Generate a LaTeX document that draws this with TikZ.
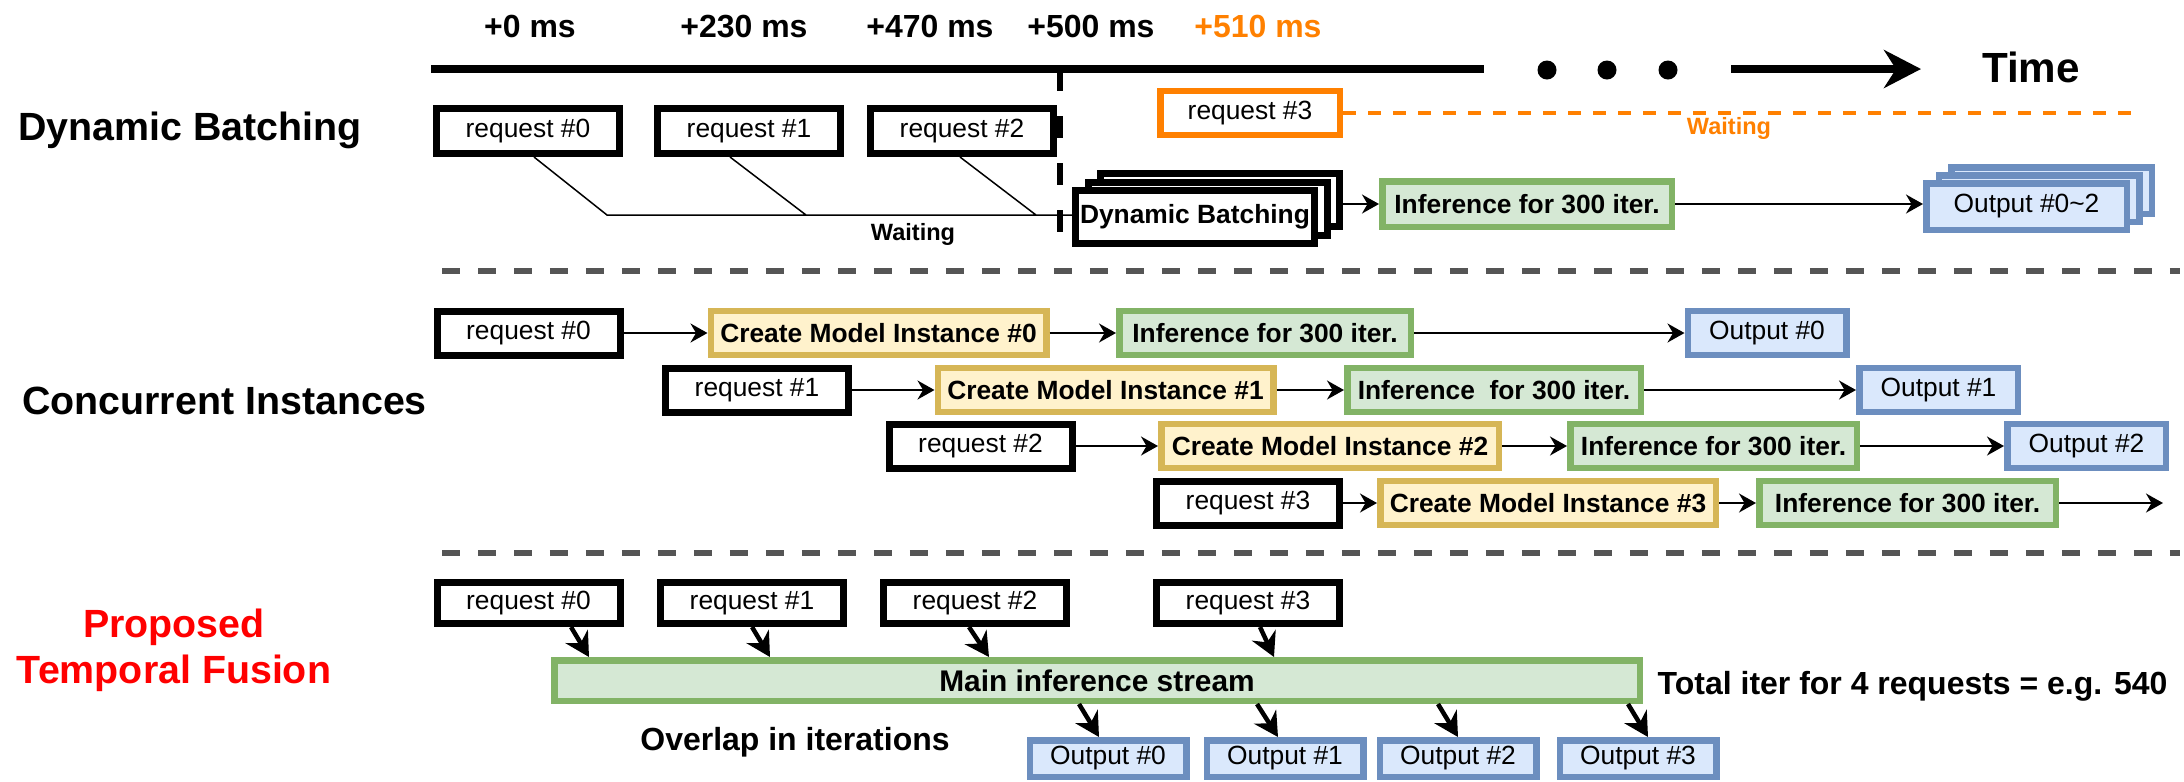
\documentclass[tikz,border=0pt]{standalone}
\usepackage{fontspec}
\setmainfont{Liberation Sans}
\usetikzlibrary{
  calc,
  positioning,
  arrows.meta}
\definecolor{dbOrange}{HTML}{FF8000}
\definecolor{cmiLine}{HTML}{D6B656}
\definecolor{cmiFill}{HTML}{FFF2CC}
\definecolor{infLine}{HTML}{82B366}
\definecolor{infFill}{HTML}{D5E8D4}
\definecolor{outLine}{HTML}{6C8EBF}
\definecolor{outFill}{HTML}{DAE8FC}
\definecolor{sepGray}{HTML}{555555}
\newcommand{\boxfont}{\fontsize{7.5}{9}\selectfont}

\begin{document}
\begin{tikzpicture}[
  req/.style={draw,line width=0.07cm,fill=white,inner sep=0pt,
    minimum width=1.83cm,minimum height=0.44cm,font=\boxfont},
  cmibox/.style={req,line width=0.065cm,draw=cmiLine,fill=cmiFill,minimum width=3.355cm,
    font=\boxfont\bfseries},
  infbox/.style={req,line width=0.065cm,draw=infLine,fill=infFill,minimum width=2.915cm,
    font=\boxfont\bfseries},
  outbox/.style={req,line width=0.065cm,draw=outLine,fill=outFill,minimum width=1.585cm},
  stackbox/.style={req,minimum width=2.39cm,minimum height=0.53cm,
    font=\boxfont\bfseries},
  rowlabel/.style={anchor=base,inner sep=0pt,
    font=\fontsize{11.2}{13.1}\selectfont\bfseries},
  tick/.style={anchor=base,inner sep=0pt,font=\fontsize{9.1}{11}\selectfont\bfseries},
  waitlabel/.style={anchor=base,inner sep=0pt,font=\fontsize{6.7}{8}\selectfont\bfseries},
  flow/.style={line width=0.02cm,-{Stealth[length=0.17cm,width=0.19cm]}},
  fuse/.style={line width=0.045cm,-{Stealth[length=0.24cm,width=0.26cm]}},
  sep/.style={sepGray,line width=0.055cm,dash pattern=on 0.18cm off 0.18cm}
]%
  \useasboundingbox (0,0) rectangle (21.84,-7.81);

  % Time axis
  \draw[line width=0.08cm] (4.31,-0.69) -- (14.84,-0.69);
  \foreach \x in {15.47,16.07,16.68}
    \fill (\x,-0.70) circle (0.095cm);
  \draw[line width=0.08cm,-{Stealth[length=0.37cm,width=0.38cm]}]
    (17.31,-0.69) -- (19.21,-0.69);
  \node[tick,font=\fontsize{12}{14}\selectfont\bfseries] (time) at (20.31,-0.82) {Time};
  \foreach \x/\t in {5.30/0,7.44/230,9.30/470,10.91/500}
    \node[tick] (tick\t) at (\x,-0.37) {+\t\ ms};
  \node[tick,text=dbOrange] (tick510) at (12.58,-0.37) {+510 ms};

  % Dynamic Batching
  \node[rowlabel] (dblabel) at (1.90,-1.40) {Dynamic Batching};
  \node[req,minimum height=0.45cm] (dbreq0) at (5.28,-1.31) {request \#0};
  \node[req,minimum height=0.45cm] (dbreq1) at (7.49,-1.31) {request \#1};
  \node[req,minimum height=0.45cm] (dbreq2) at (9.62,-1.31) {request \#2};
  \node[req,line width=0.065cm,draw=dbOrange,minimum width=1.795cm] (dbreq3) at (12.50,-1.13)
    {request \#3};
  \coordinate (dbwait) at (21.31,-1.11);
  \draw[dbOrange,line width=0.04cm,dash pattern=on 0.13cm off 0.12cm]
    (dbreq3.east) -- (dbreq3.east -| dbwait);
  \node[waitlabel,text=dbOrange] (dbwaitorange) at (17.29,-1.34) {Waiting};

  \node[stackbox] (dbstack3) at (12.20,-2.00) {};
  \node[stackbox] (dbstack2) at (12.075,-2.085) {};
  \node[stackbox] (dbstack) at (11.95,-2.17) {Dynamic Batching};

  \coordinate (wait0) at (6.07,-2.15);
  \coordinate (wait1) at (8.06,-2.15);
  \coordinate (wait2) at (10.36,-2.15);
  \draw[line width=0.015cm]
    ([xshift=0.06cm]dbreq0.south) -- (wait0) -- (wait0 -| dbstack.west)
    ([xshift=-0.19cm]dbreq1.south) -- (wait1)
    ([xshift=-0.02cm]dbreq2.south) -- (wait2);
  \node[waitlabel] (dbwaitblack) at (9.13,-2.40) {Waiting};
  \draw[line width=0.065cm,dash pattern=on 0.22cm off 0.25cm]
    (10.60,-0.69) -- (10.60,-2.45);

  \node[infbox,minimum width=2.895cm,minimum height=0.455cm] (dbinf) at (15.27,-2.04)
    {Inference for 300 iter.};
  \node[outbox,minimum width=2.005cm,minimum height=0.465cm] (dbout3) at (20.515,-1.905) {};
  \node[outbox,minimum width=2.005cm,minimum height=0.465cm] (dbout2) at (20.39,-1.985) {};
  \node[outbox,minimum width=2.005cm,minimum height=0.465cm] (dbout) at (20.265,-2.065)
    {Output \#0\textasciitilde 2};
  \draw[flow] (dbstack3.east |- dbinf.west) -- (dbinf.west);
  \draw[flow] (dbinf.east) -- (dbinf.east -| dbout.west);

  % Separators
  \draw[sep] (4.42,-2.71) -- (21.80,-2.71);
  \draw[sep] (4.42,-5.53) -- (21.80,-5.53);

  % Concurrent Instances
  \node[rowlabel] (cilabel) at (2.245,-4.14) {Concurrent Instances};

  \node[req] (cireq0) at (5.285,-3.33) {request \#0};
  \node[cmibox] (cicmi0) at (8.785,-3.33) {Create Model Instance \#0};
  \node[infbox] (ciinf0) at (12.65,-3.33) {Inference for 300 iter.};
  \node[outbox] (ciout0) at (17.67,-3.33) {Output \#0};

  \node[req] (cireq1) at (7.57,-3.90) {request \#1};
  \node[cmibox] (cicmi1) at (11.055,-3.90) {Create Model Instance \#1};
  \node[infbox,minimum width=2.935cm] (ciinf1) at (14.94,-3.90) {Inference \ for 300 iter.};
  \node[outbox] (ciout1) at (19.385,-3.90) {Output \#1};

  \node[req] (cireq2) at (9.805,-4.46) {request \#2};
  \node[cmibox,minimum width=3.375cm] (cicmi2) at (13.30,-4.46) {Create Model Instance \#2};
  \node[infbox,minimum width=2.865cm] (ciinf2) at (17.135,-4.46) {Inference for 300 iter.};
  \node[outbox] (ciout2) at (20.865,-4.46) {Output \#2};

  \node[req] (cireq3) at (12.48,-5.03) {request \#3};
  \node[cmibox] (cicmi3) at (15.48,-5.03) {Create Model Instance \#3};
  \node[infbox,minimum width=2.965cm] (ciinf3) at (19.075,-5.03) {Inference for 300 iter.};
  \coordinate (ciend3) at (21.63,-5.03);

  \foreach \a/\b in {cireq0/cicmi0,cicmi0/ciinf0,ciinf0/ciout0,
                     cireq1/cicmi1,cicmi1/ciinf1,ciinf1/ciout1,
                     cireq2/cicmi2,cicmi2/ciinf2,ciinf2/ciout2,
                     cireq3/cicmi3,cicmi3/ciinf3,ciinf3/ciend3}
    \draw[flow] (\a) -- (\b);

  % Proposed Temporal Fusion
  \node[rowlabel,anchor=center,align=center,text=red] (tflabel) at (1.74,-6.50)
    {Proposed\\Temporal Fusion};

  \node[req,minimum height=0.41cm] (tfreq0) at (5.285,-6.03) {request \#0};
  \node[req,minimum height=0.41cm] (tfreq1) at (7.52,-6.03) {request \#1};
  \node[req,minimum height=0.41cm] (tfreq2) at (9.75,-6.03) {request \#2};
  \node[req,minimum height=0.41cm] (tfreq3) at (12.48,-6.03) {request \#3};

  \node[infbox,minimum width=10.855cm,minimum height=0.405cm,
    font=\fontsize{8.5}{10}\selectfont\bfseries] (tfmain) at (10.97,-6.805)
    {Main inference stream};
  \node[tick,anchor=base west] (tftotal) at (16.57,-6.94)
    {Total iter for 4 requests = e.g. 540};
  \node[tick] (tfoverlap) at (7.95,-7.50) {Overlap in iterations};

  \node[outbox,minimum width=1.565cm,minimum height=0.365cm] (tfout0) at (11.08,-7.585) {Output \#0};
  \node[outbox,minimum width=1.565cm,minimum height=0.365cm] (tfout1) at (12.85,-7.585) {Output \#1};
  \node[outbox,minimum width=1.565cm,minimum height=0.365cm] (tfout2) at (14.58,-7.585) {Output \#2};
  \node[outbox,minimum width=1.565cm,minimum height=0.365cm] (tfout3) at (16.38,-7.585) {Output \#3};

  \foreach \i/\a/\b in {0/0.425/0.605,1/0/0.18,2/-0.06/0.14,3/0.12/0.26}
    \draw[fuse] ([xshift=\a cm]tfreq\i.south)
      -- ([xshift=\b cm]tfreq\i.south |- tfmain.north);
  \foreach \i/\a/\b in {0/-0.29/-0.09,1/-0.28/-0.07,2/-0.20/0,3/-0.10/0.10}
    \draw[fuse] ([xshift=\a cm]tfout\i.north |- tfmain.south)
      -- ([xshift=\b cm]tfout\i.north);

\end{tikzpicture}
\end{document}
